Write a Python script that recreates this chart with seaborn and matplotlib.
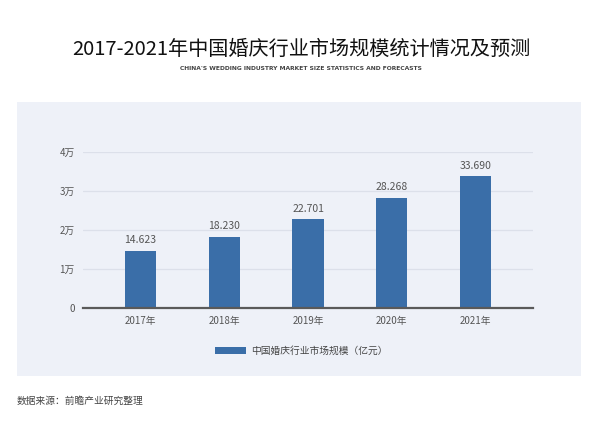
import matplotlib
matplotlib.use("Agg")
import matplotlib.pyplot as plt
import seaborn as sns
import pandas as pd
from matplotlib.patches import Rectangle

# datos del grafico
years = ["2017年", "2018年", "2019年", "2020年", "2021年"]
market_size = [14623, 18230, 22701, 28268, 33690]
y_ticks = [0, 10000, 20000, 30000, 40000]
y_tick_labels = ["0", "1万", "2万", "3万", "4万"]
series_name = "中国婚庆行业市场规模（亿元）"

title = "2017-2021年中国婚庆行业市场规模统计情况及预测"
subtitle = "CHINA'S WEDDING INDUSTRY MARKET SIZE STATISTICS AND FORECASTS"
source = "数据来源：前瞻产业研究整理"

df = pd.DataFrame({"year": years, "value": market_size})

sns.set_theme(style="white")
plt.rcParams['font.family'] = ['Noto Sans CJK SC', 'DejaVu Sans']

W, H = 602, 421
fig = plt.figure(figsize=(W / 100, H / 100), dpi=100)
fig.patch.set_facecolor("white")

panel_color = "#eef1f8"
bar_color = "#3a6ea8"

# fondo claro detras del grafico
fig.patches.append(Rectangle((17 / W, 1 - 376 / H), 564 / W, 274.5 / H,
                             transform=fig.transFigure, facecolor=panel_color,
                             edgecolor="none", zorder=-5))

ax = fig.add_axes([83 / W, 1 - 308 / H, 450 / W, 156.3 / H])
ax.set_facecolor("none")

sns.barplot(data=df, x="year", y="value", ax=ax, color=bar_color,
            width=0.37, saturation=1, label=series_name, linewidth=0,
            zorder=3)

ax.set_xlim(-0.685, 4.685)
ax.set_ylim(0, 40000)
ax.set_yticks(y_ticks)
ax.set_yticklabels(y_tick_labels)
ax.set_xlabel("")
ax.set_ylabel("")

ax.yaxis.grid(True, color="#dce0ea", linewidth=0.9, zorder=0)
ax.xaxis.grid(False)
ax.set_axisbelow(True)
for side in ["top", "right", "left"]:
    ax.spines[side].set_visible(False)
ax.spines["bottom"].set_color("#5a5a5a")
ax.spines["bottom"].set_linewidth(1.6)
ax.spines["bottom"].set_zorder(4)

ax.tick_params(axis="both", length=0, labelsize=7, colors="#555555")
ax.tick_params(axis="y", pad=6)
ax.tick_params(axis="x", pad=6)

# etiquetas encima de las barras
container = ax.containers[0]
ax.bar_label(container, labels=[f"{v / 1000:.3f}" for v in market_size],
             padding=4, fontsize=7.5, color="#555555")

# leyenda
ax.legend(handles=[container.patches[0]], labels=[series_name],
          loc="center", bbox_to_anchor=(0.5, 1 - 351 / H),
          bbox_transform=fig.transFigure, frameon=False, fontsize=7,
          handlelength=3.2, handleheight=0.75, handletextpad=0.5,
          labelcolor="#444444")

# titulos y fuente
fig.text(0.5, 1 - 49 / H, title, ha="center", va="center",
         fontsize=14.5, color="#111111")
fig.text(0.5, 1 - 68 / H, subtitle, ha="center", va="center",
         fontsize=4.3, fontweight="bold", color="#444444",
         family=['DejaVu Sans'])
fig.text(17 / W, 1 - 401 / H, source, ha="left", va="center",
         fontsize=7, color="#444444")

fig.savefig("out.png", dpi=100)
